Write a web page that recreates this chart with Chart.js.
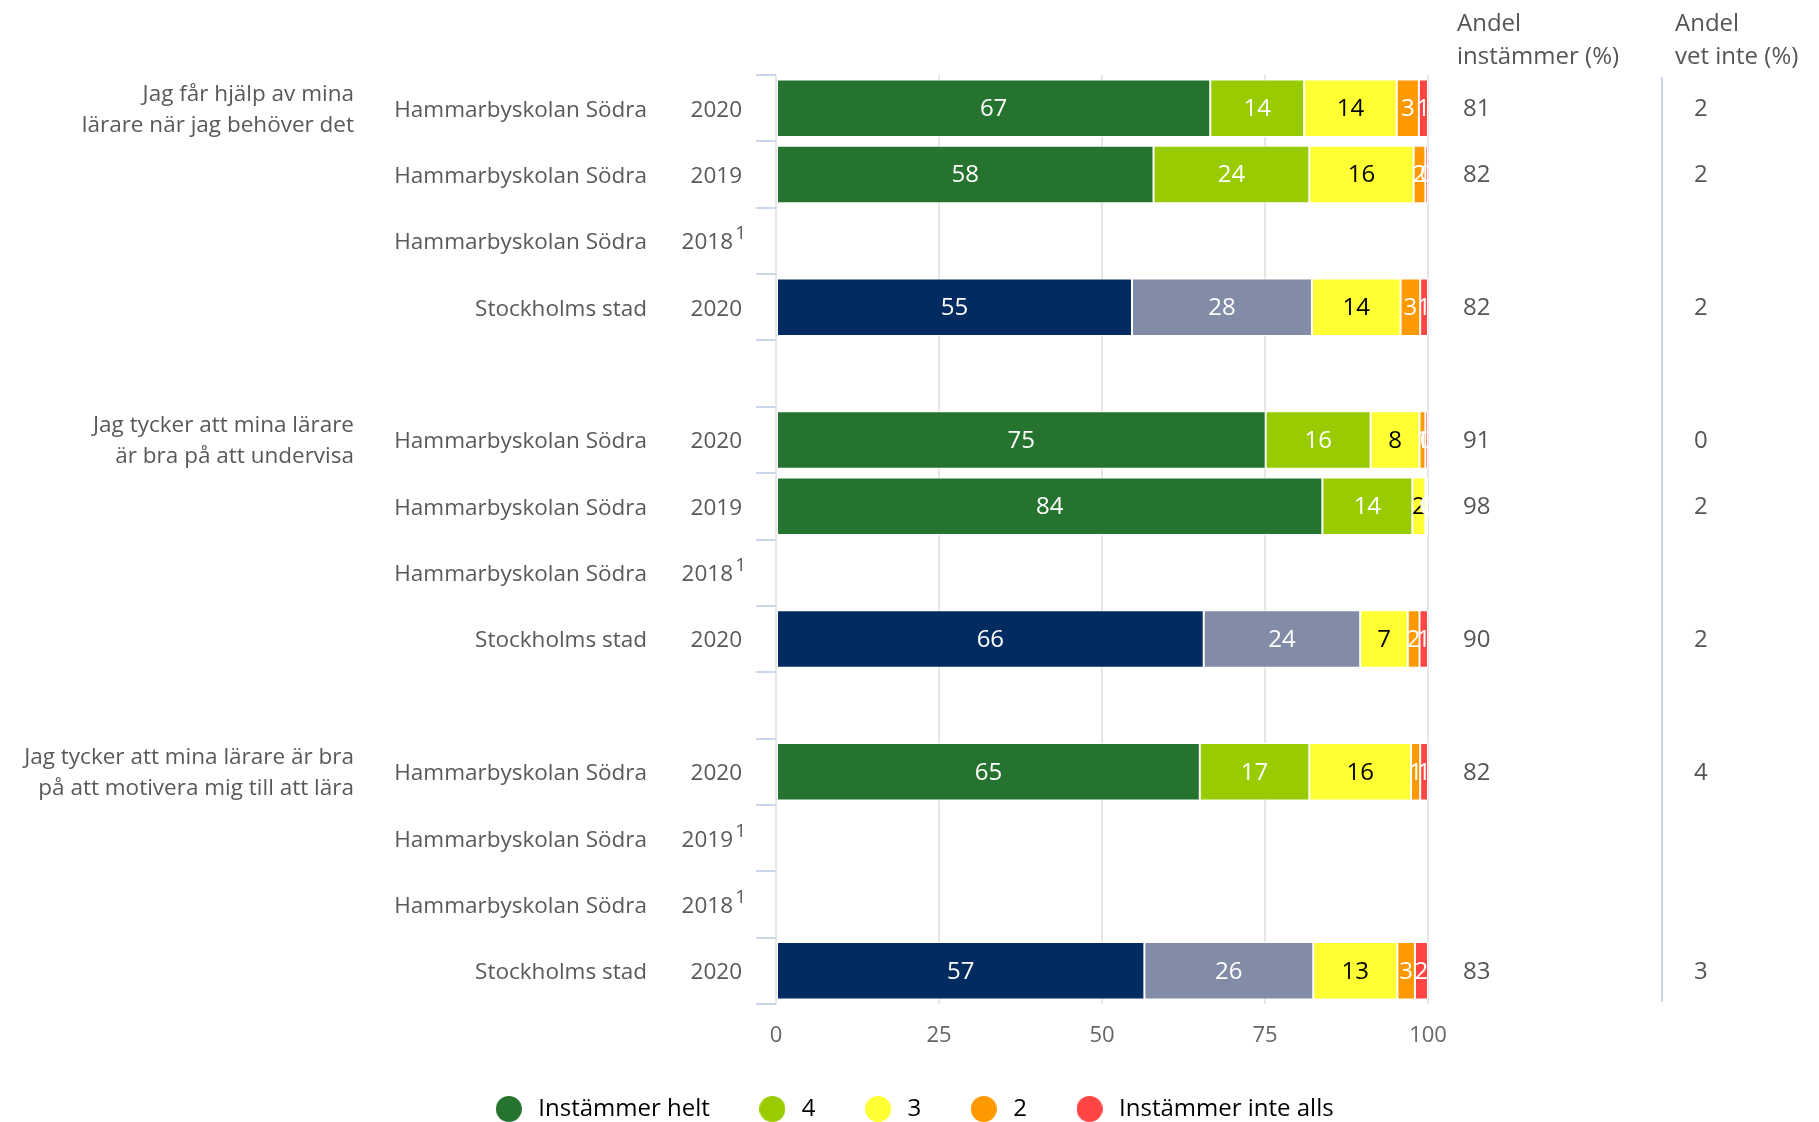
<!DOCTYPE html>
<html lang="sv">
<head>
<meta charset="utf-8">
<title>Lärare</title>
<script src="https://cdn.jsdelivr.net/npm/chart.js@4.4.1/dist/chart.umd.min.js"></script>
<style>
    html, body { margin: 0; padding: 0; background: #fff; }
    #wrap { width: 1819px; height: 1122px; position: relative; }
</style>
</head>
<body>
<div id="wrap"><canvas id="teacherChart"></canvas></div>
<script>
// rows, top to bottom ('' = spacer row between questions)
const schools = ['Hammarbyskolan Södra', 'Hammarbyskolan Södra', 'Hammarbyskolan Södra', 'Stockholms stad', '',
    'Hammarbyskolan Södra', 'Hammarbyskolan Södra', 'Hammarbyskolan Södra', 'Stockholms stad', '',
    'Hammarbyskolan Södra', 'Hammarbyskolan Södra', 'Hammarbyskolan Södra', 'Stockholms stad'];
const years = ['2020', '2019', '2018', '2020', '',
    '2020', '2019', '2018', '2020', '',
    '2020', '2019', '2018', '2020'];
const cityRows = [3, 8, 13];

const questions = [
    ['Jag får hjälp av mina', 'lärare när jag behöver det'],
    ['Jag tycker att mina lärare', 'är bra på att undervisa'],
    ['Jag tycker att mina lärare är bra', 'på att motivera mig till att lära']
];
const questionRows = [0, 5, 10];

// shares in % (labels show rounded values)
const helt = [66.6, 57.9, null, 54.6, null, 75.1, 83.8, null, 65.6, null, 65.0, null, null, 56.5];
const fyra = [14.4, 23.9, null, 27.6, null, 16.1, 13.8, null, 24.0, null, 16.8, null, null, 25.9];
const tre = [14.2, 16.0, null, 13.6, null, 7.5, 2.0, null, 7.3, null, 15.6, null, null, 12.9];
const tva = [3.4, 1.8, null, 3.0, null, 0.9, 0.2, null, 1.8, null, 1.4, null, null, 2.7];
const inteAlls = [1.4, 0.4, null, 1.2, null, 0.4, 0.2, null, 1.3, null, 1.2, null, null, 2.0];

const andelInstammer = [81, 82, null, 82, null, 91, 98, null, 90, null, 82, null, null, 83];
const andelVetInte = [2, 2, null, 2, null, 0, 2, null, 2, null, 4, null, null, 3];

const xTicks = [0, 25, 50, 75, 100];

const FONT = '"Open Sans", "DejaVu Sans", sans-serif';

function rowColors(normal, city) {
    return schools.map((s, i) => cityRows.includes(i) ? city : normal);
}

function dot(color) {
    const c = document.createElement('canvas');
    c.width = 26;
    c.height = 26;
    const g = c.getContext('2d');
    g.fillStyle = color;
    g.beginPath();
    g.arc(13, 13, 13, 0, Math.PI * 2);
    g.fill();
    return c;
}

const datasets = [
    { label: 'Instämmer helt', data: helt, backgroundColor: rowColors('#267330', '#022b61'), legendColor: '#267330', labelColor: '#ffffff' },
    { label: '4', data: fyra, backgroundColor: rowColors('#99cc00', '#838ca6'), legendColor: '#99cc00', labelColor: '#ffffff' },
    { label: '3', data: tre, backgroundColor: '#ffff33', legendColor: '#ffff33', labelColor: '#000000' },
    { label: '2', data: tva, backgroundColor: '#ff9900', legendColor: '#ff9900', labelColor: '#ffffff' },
    { label: 'Instämmer inte alls', data: inteAlls, backgroundColor: '#ff4444', legendColor: '#ff4444', labelColor: '#ffffff' }
];
datasets.forEach(d => {
    d.borderColor = '#ffffff';
    d.borderWidth = 1;
    d.borderSkipped = false;
    d.barPercentage = 0.866;
    d.categoryPercentage = 1;
});

// numbers inside the bars
const barLabels = {
    id: 'barLabels',
    afterDatasetsDraw(chart) {
        const ctx = chart.ctx;
        ctx.save();
        ctx.font = '24px ' + FONT;
        ctx.textAlign = 'center';
        ctx.textBaseline = 'middle';
        chart.data.datasets.forEach((ds, di) => {
            chart.getDatasetMeta(di).data.forEach((bar, i) => {
                const v = ds.data[i];
                if (v === null || v === undefined) return;
                ctx.fillStyle = ds.labelColor;
                ctx.fillText(String(Math.round(v)), (bar.x + bar.base) / 2, bar.y + 1);
            });
        });
        ctx.restore();
    }
};

// row texts on the left, share columns on the right
const sideTexts = {
    id: 'sideTexts',
    afterDraw(chart) {
        const ctx = chart.ctx;
        const y = chart.scales.y;
        const area = chart.chartArea;
        ctx.save();
        ctx.textBaseline = 'middle';

        ctx.font = '22.5px ' + FONT;
        ctx.fillStyle = '#595959';
        schools.forEach((s, i) => {
            if (!s) return;
            const py = y.getPixelForValue(i) + 2;
            ctx.textAlign = 'right';
            ctx.fillText(s, 647, py);
            if (helt[i] === null) {
                ctx.fillText(years[i], 733, py);
                ctx.font = '19px ' + FONT;
                ctx.fillText('1', 746, py - 9);
                ctx.font = '22.5px ' + FONT;
            } else {
                ctx.fillText(years[i], 742, py);
            }
        });

        questions.forEach((lines, q) => {
            const py = y.getPixelForValue(questionRows[q]);
            ctx.textAlign = 'right';
            ctx.fillText(lines[0], 354, py - 14);
            ctx.fillText(lines[1], 354, py + 17);
        });

        ctx.font = '24px ' + FONT;
        ctx.fillStyle = '#555555';
        ctx.textAlign = 'left';
        ctx.fillText('Andel', 1457, 24.5);
        ctx.fillText('instämmer (%)', 1457, 57.5);
        ctx.fillText('Andel', 1675, 24.5);
        ctx.fillText('vet inte (%)', 1675, 57.5);

        schools.forEach((s, i) => {
            if (andelInstammer[i] === null) return;
            const py = y.getPixelForValue(i) + 1;
            ctx.fillText(String(andelInstammer[i]), 1463, py);
            ctx.fillText(String(andelVetInte[i]), 1694, py);
        });

        ctx.strokeStyle = '#ccd6eb';
        ctx.lineWidth = 2;
        ctx.beginPath();
        ctx.moveTo(1662, area.top + 2);
        ctx.lineTo(1662, area.bottom - 2);
        ctx.stroke();
        ctx.restore();
    }
};

const ctx = document.getElementById('teacherChart').getContext('2d');

const teacherChart = new Chart(ctx, {
    type: 'bar',
    data: {
        labels: schools.map((s, i) => s + ' ' + years[i]),
        datasets: datasets
    },
    options: {
        indexAxis: 'y',
        responsive: true,
        maintainAspectRatio: false,
        animation: false,
        layout: { padding: { top: 75, left: 6, right: 0, bottom: 0 } },
        scales: {
            x: {
                type: 'linear',
                stacked: true,
                min: 0,
                max: 100,
                afterBuildTicks: s => { s.ticks = xTicks.map(v => ({ value: v })); },
                afterFit: s => { s.height = 48; },
                ticks: { color: '#666666', font: { family: FONT, size: 22 }, padding: 19 },
                grid: { color: '#e6e6e6', lineWidth: 2, drawTicks: false },
                border: { display: false }
            },
            y: {
                stacked: true,
                position: 'left',
                afterFit: s => { s.width = 770; },
                ticks: { display: false },
                grid: { drawOnChartArea: false, drawTicks: true, tickLength: 20, color: '#ccd6eb', lineWidth: 2, offset: true },
                border: { display: false }
            },
            columns: {
                type: 'linear',
                position: 'right',
                afterFit: s => { s.width = 391; },
                ticks: { display: false },
                grid: { display: false },
                border: { display: false }
            }
        },
        plugins: {
            tooltip: { enabled: false },
            legend: {
                position: 'bottom',
                maxHeight: 70,
                labels: {
                    usePointStyle: true,
                    pointStyleWidth: 35,
                    color: '#333333',
                    font: { family: FONT, size: 24 },
                    padding: 45,
                    generateLabels: chart => chart.data.datasets.map((d, i) => ({
                        text: d.label,
                        pointStyle: dot(d.legendColor),
                        fillStyle: d.legendColor,
                        strokeStyle: d.legendColor,
                        lineWidth: 0,
                        hidden: false,
                        datasetIndex: i
                    }))
                }
            }
        }
    },
    plugins: [barLabels, sideTexts]
});
</script>
</body>
</html>
